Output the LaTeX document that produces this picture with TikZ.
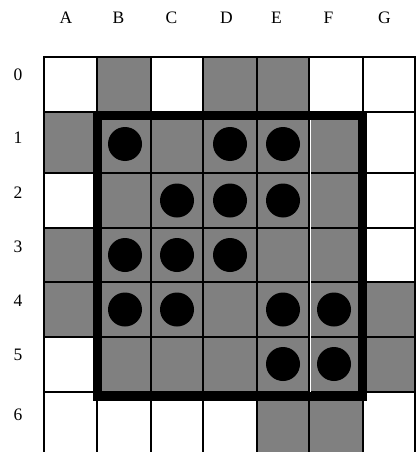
\documentclass[tikz,border=0pt]{standalone}
\usepackage{fontspec}
\setmainfont{Liberation Serif}
\definecolor{cellgray}{HTML}{808080}
\begin{document}
\begin{tikzpicture}[x=1pt,y=-1pt,
  lab/.style={font=\fontsize{17.5}{20}\selectfont, anchor=base, inner sep=0pt},
  dot/.style={circle, fill=black, minimum size=34pt, inner sep=0pt},
  gridline/.style={line width=1.8pt, black},
  gcell/.style={fill=cellgray}]
\useasboundingbox (0,0) rectangle (419,452);
% gray cells outside the box
\fill[gcell] (97,57) rectangle (151,112);   % B0
\fill[gcell] (203,57) rectangle (309,112);  % D0 E0
\fill[gcell] (44,112) rectangle (97,173);   % A1
\fill[gcell] (44,228) rectangle (97,337);   % A3 A4
\fill[gcell] (363,282) rectangle (415,392); % G4 G5
\fill[gcell] (257,392) rectangle (363,452); % E6 F6
% gray cells inside the box
\fill[gcell] (97,112) rectangle (363,392);
% grid lines
\foreach \x in {44,97,151,203,257,309,363,415}
  \draw[gridline] (\x,57) -- (\x,452);
\foreach \y in {57,112,173,228,282,337,392}
  \draw[gridline] (43.1,\y) -- (415.9,\y);
\draw[white, line width=0.8pt] (310.6,120) -- (310.6,392);
% thick border
\draw[line width=9pt] (97.5,115.5) rectangle (362.3,396.5);
% column labels
\node[lab] (cA) at (66,24) {A};
\node[lab] (cB) at (118.5,24) {B};
\node[lab] (cC) at (171.5,24) {C};
\node[lab] (cD) at (226.5,24) {D};
\node[lab] (cE) at (276.5,24) {E};
\node[lab] (cF) at (328.5,24) {F};
\node[lab] (cG) at (384.5,24) {G};
% row labels
\node[lab] (r0) at (18,80) {0};
\node[lab] (r1) at (18,143) {1};
\node[lab] (r2) at (18,198) {2};
\node[lab] (r3) at (18,252) {3};
\node[lab] (r4) at (18,306) {4};
\node[lab] (r5) at (18,360) {5};
\node[lab] (r6) at (18,420) {6};
% dots
\node[dot] (B1) at (125,144) {};
\node[dot] (D1) at (230,144) {};
\node[dot] (E1) at (283,144) {};
\node[dot] (C2) at (177,200.5) {};
\node[dot] (D2) at (230,200.5) {};
\node[dot] (E2) at (283,200.5) {};
\node[dot] (B3) at (125,255) {};
\node[dot] (C3) at (177,255) {};
\node[dot] (D3) at (230,255) {};
\node[dot] (B4) at (125,309.5) {};
\node[dot] (C4) at (177,309.5) {};
\node[dot] (E4) at (283,309.5) {};
\node[dot] (F4) at (334,309.5) {};
\node[dot] (E5) at (283,364) {};
\node[dot] (F5) at (334,364) {};
\end{tikzpicture}
\end{document}
